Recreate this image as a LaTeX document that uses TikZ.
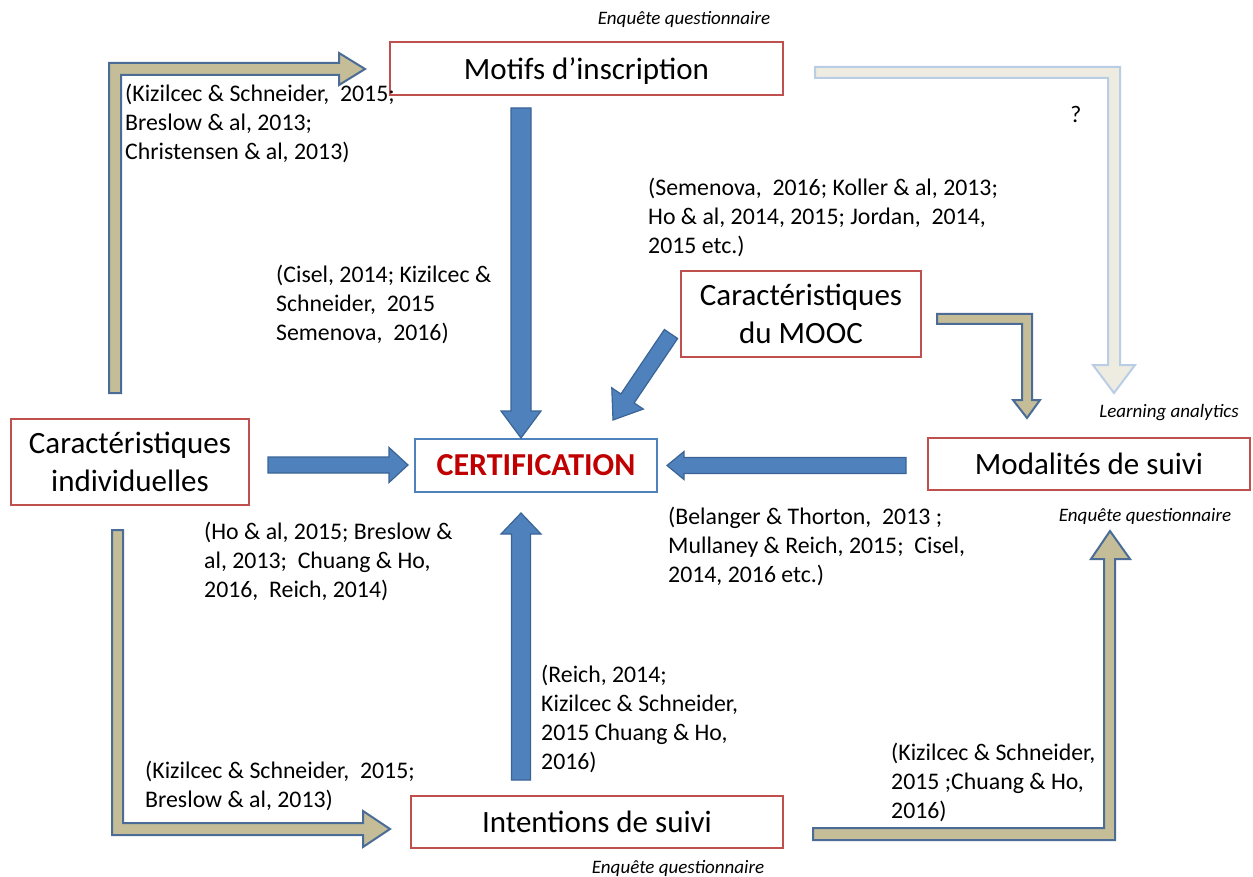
\documentclass[tikz,border=0pt]{standalone}
\usepackage{fontspec}
\setmainfont{Carlito}
\usetikzlibrary{calc}
\definecolor{boxred}{HTML}{C0504D}
\definecolor{arrblue}{HTML}{4F81BD}
\definecolor{arrblueline}{HTML}{3A6496}
\definecolor{tanfill}{HTML}{C4BD97}
\definecolor{tanline}{HTML}{4A6C97}
\definecolor{lightfill}{HTML}{EEECE1}
\definecolor{lightline}{HTML}{B9CDE5}
\definecolor{certred}{HTML}{C00000}
\newcommand\boxfont{\fontsize{31}{37.5}\selectfont}
\newcommand\citfont{\fontsize{23.8}{29}\selectfont}
\newcommand\labfont{\fontsize{19}{23}\selectfont\itshape}
\newcommand\cit[1]{\begin{tabular}[t]{@{}l@{}}#1\end{tabular}}
\newcommand\BArrow[6]{%
  \coordinate (hb) at ($(#3)!#6!(#2)$);
  \draw[#1] ($(#2)!#4!90:(#3)$) -- ($(hb)!#4!90:(#3)$) -- ($(hb)!#5!90:(#3)$) -- (#3)
    -- ($(hb)!#5!-90:(#3)$) -- ($(hb)!#4!-90:(#3)$) -- ($(#2)!#4!-90:(#3)$) -- cycle;
}
\tikzset{
  redbox/.style={draw=boxred, line width=2pt, inner sep=0pt, font=\boxfont, align=center},
  bluebox/.style={draw=arrblue, line width=2pt, inner sep=0pt},
  bluearrow/.style={fill=arrblue, draw=arrblueline, line width=1.2pt, line join=miter},
  tanarrow/.style={fill=tanfill, draw=tanline, line width=2pt, line join=miter},
  lightarrow/.style={fill=lightfill, draw=lightline, line width=2pt, line join=miter},
  citation/.style={anchor=base west, inner sep=0pt, font=\citfont},
  label/.style={inner sep=0pt, font=\labfont}
}
\begin{document}
\begin{tikzpicture}[x=1pt,y=-1pt]
\useasboundingbox[fill=white] (0,0) rectangle (1253,877);

% boxes
\node[redbox, minimum width=393, minimum height=53, text depth=0pt] (motifs) at (586.5,68.5) {Motifs d’inscription};
\node[redbox, minimum width=240, minimum height=86] (mooc) at (801,314) {Caractéristiques\\du MOOC};
\node[redbox, minimum width=238, minimum height=86] (indiv) at (130,462) {Caractéristiques\\individuelles};
\node[bluebox, minimum width=242, minimum height=53] (cert) at (536,465.5) {\fontsize{32}{38}\selectfont\bfseries\color{certred}CERTIFICATION};
\node[redbox, minimum width=322, minimum height=52] (modal) at (1089,464) {Modalités de suivi};
\node[redbox, minimum width=372, minimum height=52] (intent) at (597,822) {Intentions de suivi};

% blue arrows
\coordinate (a1s) at (521,108); \coordinate (a1e) at (521,438);
\BArrow{bluearrow}{a1s}{a1e}{10pt}{20pt}{27pt}
\coordinate (a2s) at (268,465); \coordinate (a2e) at (408,465);
\BArrow{bluearrow}{a2s}{a2e}{8pt}{17.5pt}{19pt}
\coordinate (a3s) at (906,465.5); \coordinate (a3e) at (667,465.5);
\BArrow{bluearrow}{a3s}{a3e}{8pt}{14pt}{17pt}
\coordinate (a4s) at (521,780); \coordinate (a4e) at (521,513);
\BArrow{bluearrow}{a4s}{a4e}{9.5pt}{20pt}{21pt}
\coordinate (a5s) at (671,334); \coordinate (a5e) at (613,420);
\BArrow{bluearrow}{a5s}{a5e}{8pt}{19pt}{26pt}

% elbow arrows
\draw[tanarrow] (109,393) -- (109,63) -- (339,63) -- (339,53) -- (365,69) -- (339,85) -- (339,75) -- (121,75) -- (121,393) -- cycle;
\draw[tanarrow] (112,530) -- (123,530) -- (123,823) -- (363,823) -- (363,811) -- (390,829) -- (363,847) -- (363,835) -- (112,835) -- cycle;
\draw[tanarrow] (813,828) -- (1104,828) -- (1104,559) -- (1091,559) -- (1110,531) -- (1130,559) -- (1115,559) -- (1115,840) -- (813,840) -- cycle;
\draw[tanarrow] (937,314) -- (1032,314) -- (1032,400) -- (1040,400) -- (1027,418) -- (1013,400) -- (1022,400) -- (1022,324) -- (937,324) -- cycle;
\draw[lightarrow] (815,67) -- (1120,67) -- (1120,365) -- (1135,365) -- (1114,393) -- (1093,365) -- (1108,365) -- (1108,78) -- (815,78) -- cycle;

% small labels
\node[label] (lab1) at (684,19) {Enquête questionnaire};
\node[label] (lab2) at (1145,516) {Enquête questionnaire};
\node[label] (lab3) at (678,868) {Enquête questionnaire};
\node[label] (lab4) at (1169,413) {Learning analytics};
\node[inner sep=0pt, font=\citfont] (q) at (1076,114) {?};

% citations
\node[citation] (c1) at (125,102) {\cit{(Kizilcec \& Schneider,\ \ 2015;\\Breslow \& al, 2013;\\Christensen \& al, 2013)}};
\node[citation] (c2) at (648,196) {\cit{(Semenova,\ \ 2016; Koller \& al, 2013;\\Ho \& al, 2014, 2015; Jordan,\ \ 2014,\\2015 etc.)}};
\node[citation] (c3) at (276,283) {\cit{(Cisel, 2014; Kizilcec \&\\Schneider,\ \ 2015\\Semenova,\ \ 2016)}};
\node[citation] (c4) at (204,539) {\cit{(Ho \& al, 2015; Breslow \&\\al, 2013;\ \ Chuang \& Ho,\\2016,\ \ Reich, 2014)}};
\node[citation] (c5) at (668,524) {\cit{(Belanger \& Thorton,\ \ 2013 ;\\Mullaney \& Reich, 2015;\ \ Cisel,\\2014, 2016 etc.)}};
\node[citation] (c6) at (541,682) {\cit{(Reich, 2014;\\Kizilcec \& Schneider,\\2015 Chuang \& Ho,\\2016)}};
\node[citation] (c7) at (145,778) {\cit{(Kizilcec \& Schneider,\ \ 2015;\\Breslow \& al, 2013)}};
\node[citation] (c8) at (891,760) {\cit{(Kizilcec \& Schneider,\\2015 ;Chuang \& Ho,\\2016)}};
\end{tikzpicture}
\end{document}
